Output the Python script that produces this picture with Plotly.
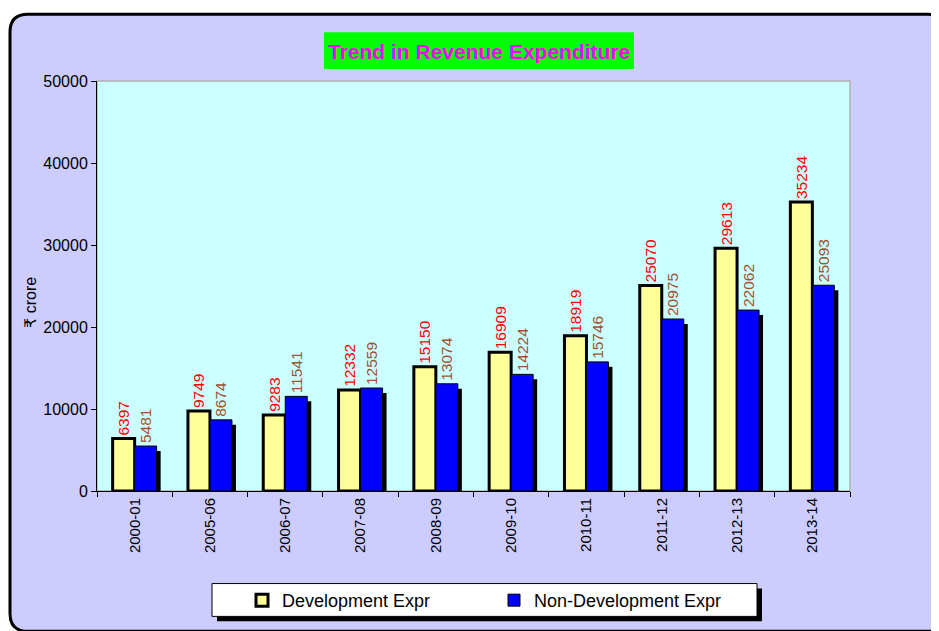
import plotly.graph_objects as go

# ---- data ----
years = ["2000-01", "2005-06", "2006-07", "2007-08", "2008-09",
         "2009-10", "2010-11", "2011-12", "2012-13", "2013-14"]
dev_expr = [6397, 9749, 9283, 12332, 15150, 16909, 18919, 25070, 29613, 35234]
nondev_expr = [5481, 8674, 11541, 12559, 13074, 14224, 15746, 20975, 22062, 25093]
y_ticks = [0, 10000, 20000, 30000, 40000, 50000]

# ---- layout geometry (reference pixels; page has an 8px body margin) ----
OFF = 8
W, H = 939 - OFF, 631 - OFF
PL, PR, PT, PB = 97, 850, 81, 493   # plot area edges in reference pixels
YMAX = 50000
FONT = "Arial, Liberation Sans, DejaVu Sans, sans-serif"


def fx(px):
    return (px - PL) / (PR - PL)


def fy(py):
    return (PB - py) / (PB - PT)


bar_w = 22 / ((PR - PL) / len(years))          # bar width in category units
sh_dx = 4 / ((PR - PL) / len(years))           # shadow x-offset in category units
sh_dy = 5 * YMAX / (PB - PT)                   # shadow y-offset in data units
NB = "\u00a0"

fig = go.Figure()

# shadow of non-development bars
fig.add_trace(go.Bar(
    x=years, y=[v - sh_dy for v in nondev_expr],
    offset=sh_dx, width=bar_w,
    marker=dict(color="black", line=dict(width=0)),
    showlegend=False, hoverinfo="skip",
))

fig.add_trace(go.Bar(
    name="Development Expr", x=years, y=dev_expr,
    offset=-bar_w, width=bar_w,
    marker=dict(color="#FFFF99", line=dict(color="black", width=3)),
    text=[str(v) + NB for v in dev_expr], textposition="outside", textangle=-90,
    textfont=dict(color="#FF0000", size=15.5, family=FONT),
    constraintext="none", cliponaxis=False,
))

fig.add_trace(go.Bar(
    name="Non-Development Expr", x=years, y=nondev_expr,
    offset=0, width=bar_w,
    marker=dict(color="#0000FF", line=dict(color="black", width=1)),
    text=[str(v) + NB for v in nondev_expr], textposition="outside", textangle=-90,
    textfont=dict(color="#A0522D", size=15.5, family=FONT),
    constraintext="none", cliponaxis=False,
))

# outer rounded panel
L, T, R, B, r = 10, 14, 946, 634, 18
panel_path = (
    f"M {fx(L)},{fy(T + r)} "
    f"Q {fx(L)},{fy(T)} {fx(L + r)},{fy(T)} "
    f"L {fx(R - r)},{fy(T)} "
    f"Q {fx(R)},{fy(T)} {fx(R)},{fy(T + r)} "
    f"L {fx(R)},{fy(B - r)} "
    f"Q {fx(R)},{fy(B)} {fx(R - r)},{fy(B)} "
    f"L {fx(L + r)},{fy(B)} "
    f"Q {fx(L)},{fy(B)} {fx(L)},{fy(B - r)} Z"
)

shapes = [
    dict(type="path", xref="paper", yref="paper", path=panel_path,
         fillcolor="#CCCCFF", line=dict(color="black", width=3), layer="below"),
    # plot area
    dict(type="rect", xref="paper", yref="paper", x0=0, y0=0, x1=1, y1=1,
         fillcolor="#CCFFFF", line=dict(color="#B0B0B0", width=1.5), layer="below"),
    # title box
    dict(type="rect", xref="paper", yref="paper",
         x0=fx(324), x1=fx(634), y0=fy(69), y1=fy(32),
         fillcolor="#00FF00", line=dict(width=0), layer="below"),
    # legend shadow
    dict(type="rect", xref="paper", yref="paper",
         x0=fx(217), x1=fx(762), y0=fy(624), y1=fy(591),
         fillcolor="black", line=dict(width=0), layer="below"),
    # legend box
    dict(type="rect", xref="paper", yref="paper",
         x0=fx(212), x1=fx(757), y0=fy(619), y1=fy(586),
         fillcolor="white", line=dict(color="black", width=1), layer="below"),
]

annotations = [
    dict(text="<b>Trend in Revenue Expenditure</b>", xref="paper", yref="paper",
         x=fx(479), y=fy(51), xanchor="center", yanchor="middle", showarrow=False,
         font=dict(family=FONT, size=21, color="#FF00FF")),
    dict(text="₹ crore", xref="paper", yref="paper",
         x=fx(31), y=fy(304), xanchor="center", yanchor="middle", showarrow=False,
         textangle=-90, font=dict(family=FONT, size=16, color="black")),
]

fig.update_layout(
    width=W, height=H,
    margin=dict(l=PL - OFF, r=(939 - PR), t=PT - OFF, b=(631 - PB) - OFF, pad=0),
    paper_bgcolor="white", plot_bgcolor="rgba(0,0,0,0)",
    barmode="overlay",
    font=dict(family=FONT, size=15, color="black"),
    shapes=shapes, annotations=annotations,
    showlegend=True,
    legend=dict(orientation="h", x=fx(242), y=fy(603), xanchor="left", yanchor="middle",
                bgcolor="rgba(0,0,0,0)", borderwidth=0,
                font=dict(family=FONT, size=18, color="black"),
                entrywidth=207, entrywidthmode="pixels", traceorder="normal"),
    hovermode=False,
)

fig.update_xaxes(
    type="category", showgrid=False, showline=True, linecolor="black", linewidth=1,
    ticks="outside", ticklen=5, tickcolor="black", tickson="boundaries",
    tickangle=-90, tickfont=dict(family=FONT, size=15, color="black"),
    zeroline=False,
)
fig.update_yaxes(
    range=[0, YMAX], tickvals=y_ticks, ticktext=[str(v) for v in y_ticks],
    showgrid=False, showline=True,
    linecolor="black", linewidth=1, ticks="outside", ticklen=5, tickcolor="black",
    tickfont=dict(family=FONT, size=16, color="black"), zeroline=False,
)

fig.write_html("out.html")
